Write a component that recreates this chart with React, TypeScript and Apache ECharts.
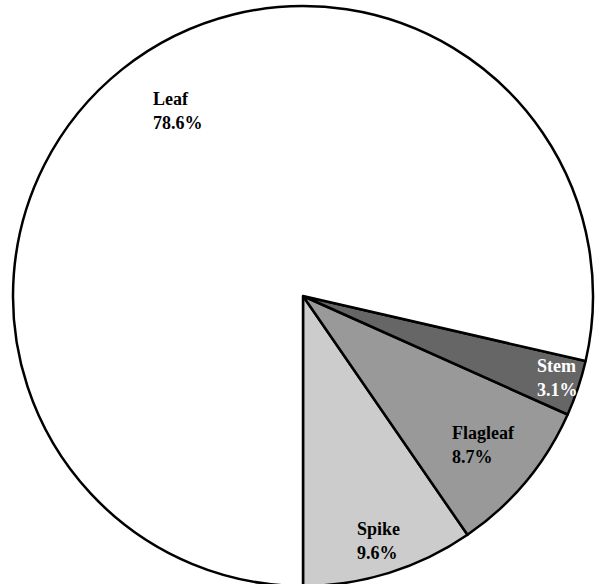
import React, { useEffect, useRef } from "react";
import * as echarts from "echarts";

// Share of each plant organ (%), listed counter-clockwise from the bottom
const organs = ["Spike", "Flagleaf", "Stem", "Leaf"];
const shares = [9.6, 8.7, 3.1, 78.6];

// Slice fills and label colours
const fills = ["#cccccc", "#999999", "#666666", "#ffffff"];
const labelColors = ["#000000", "#000000", "#ffffff", "#000000"];

// Top-left anchor of each slice label, in pixels
const labelAnchors = [
  [357, 517],
  [452, 421],
  [537, 354],
  [153, 87],
];

const serif = "'Liberation Serif', 'Times New Roman', serif";

export default function App() {
  const ref = useRef<HTMLDivElement>(null);

  useEffect(() => {
    document.body.style.margin = "0";
    if (!ref.current) return;
    const chart = echarts.init(ref.current, null, { renderer: "svg" });
    chart.setOption({
      animation: false,
      backgroundColor: "#ffffff",
      textStyle: { fontFamily: serif },
      series: [
        {
          type: "pie",
          center: [303, 296],
          radius: 290,
          startAngle: -90,
          clockwise: false,
          avoidLabelOverlap: false,
          silent: true,
          itemStyle: { borderColor: "#000000", borderWidth: 2.5 },
          label: {
            show: true,
            position: "inside",
            formatter: (p: any) => `${p.name}\n${p.value}%`,
            fontFamily: serif,
            fontWeight: "bold",
            fontSize: 18,
            lineHeight: 24,
            align: "left",
          },
          labelLine: { show: false },
          labelLayout: (p: any) => ({
            x: labelAnchors[p.dataIndex][0],
            y: labelAnchors[p.dataIndex][1],
            align: "left",
            verticalAlign: "top",
          }),
          data: organs.map((name, i) => ({
            name,
            value: shares[i],
            itemStyle: { color: fills[i] },
            label: { color: labelColors[i], fontFamily: serif },
          })),
        },
      ],
    });
    return () => chart.dispose();
  }, []);

  return <div ref={ref} style={{ width: 595, height: 584 }} />;
}
